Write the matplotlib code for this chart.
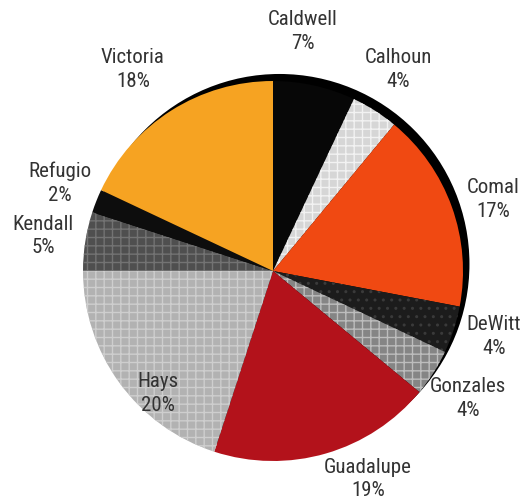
import matplotlib
matplotlib.use("Agg")
import matplotlib.pyplot as plt
from matplotlib.patches import Circle

counties = ["Caldwell", "Calhoun", "Comal", "DeWitt", "Gonzales",
            "Guadalupe", "Hays", "Kendall", "Refugio", "Victoria"]
shares = [7, 4, 17, 4, 4, 19, 20, 5, 2, 18]

face_colors = ["#070707", "#d6d6d6", "#f04912", "#1c1c1c", "#858585",
               "#b3121b", "#b2b2b2", "#4f4f4f", "#0d0d0d", "#f6a322"]
hatch_colors = ["#070707", "#f2f2f2", "#f04912", "#3a3a3a", "#bdbdbd",
                "#b3121b", "#cecece", "#737373", "#0d0d0d", "#f6a322"]
hatches = [None, "++", None, "..", "++", None, "++", "++", None, None]

# label anchor points (data units, pie radius = 1)
label_xy = [(0.158, 1.262), (0.658, 1.062), (1.158, 0.378), (1.163, -0.343),
            (1.026, -0.669), (0.50, -1.095), (-0.605, -0.643), (-1.21, 0.184),
            (-1.121, 0.462), (-0.737, 1.062)]

plt.rcParams["hatch.linewidth"] = 1.0
plt.rcParams["font.family"] = ["Roboto Condensed", "Archivo Narrow", "DejaVu Sans"]

fig = plt.figure(figsize=(5.26, 5.03), dpi=100)
ax = fig.add_axes([0, 0, 1, 1])

# dark rim behind the pie
ax.add_patch(Circle((0.034, 0.037), 1.0, facecolor="black", edgecolor="none", zorder=0))

wedges, _ = ax.pie(shares, startangle=90, counterclock=False, radius=1.0,
                   colors=face_colors, center=(0, 0),
                   wedgeprops=dict(linewidth=0))
for w, h, hc in zip(wedges, hatches, hatch_colors):
    w.set_zorder(1)
    if h:
        w.set_hatch(h)
        w.set_edgecolor(hc)
        w.set_linewidth(0)

for name, pct, (x, y) in zip(counties, shares, label_xy):
    ax.text(x, y, f"{name}\n{pct}%", ha="center", va="center",
            fontsize=15, color="#333333", linespacing=1.32)

ax.set_aspect("auto")
ax.set_xlim(-273 / 190, (526 - 273) / 190)
ax.set_ylim(-(503 - 271) / 190, 271 / 190)
ax.axis("off")

fig.savefig("out.png", dpi=100)
